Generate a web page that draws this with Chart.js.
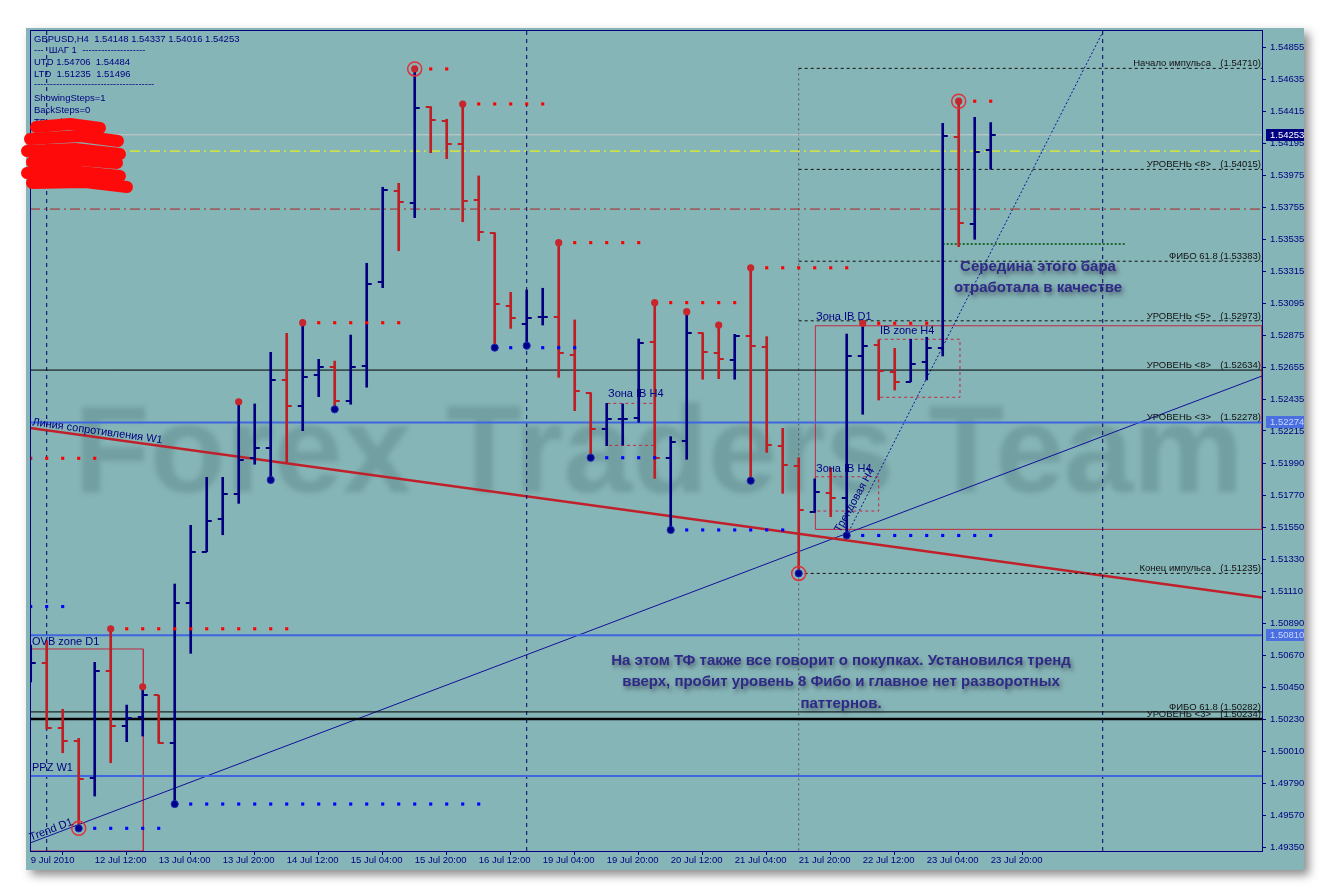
<!DOCTYPE html>
<html>
<head>
<meta charset="utf-8">
<script src="https://cdn.jsdelivr.net/npm/chart.js@4.4.1/dist/chart.umd.min.js"></script>
<style>
  html, body { margin: 0; padding: 0; background: #fff; }
  canvas { display: block; }
</style>
</head>
<body>
<canvas id="chart" width="1332" height="896"></canvas>
<script>
// GBPUSD H4, 9 Jul 2010 20:00 .. 23 Jul 20:00
const tickLabels = ['9 Jul 2010', '12 Jul 12:00', '13 Jul 04:00', '13 Jul 20:00', '14 Jul 12:00', '15 Jul 04:00',
  '15 Jul 20:00', '16 Jul 12:00', '19 Jul 04:00', '19 Jul 20:00', '20 Jul 12:00', '21 Jul 04:00',
  '21 Jul 20:00', '22 Jul 12:00', '23 Jul 04:00', '23 Jul 20:00'];
const priceTicks = [1.54855, 1.54635, 1.54415, 1.54195, 1.53975, 1.53755, 1.53535, 1.53315, 1.53095, 1.52875,
  1.52655, 1.52435, 1.52215, 1.51990, 1.51770, 1.51550, 1.51330, 1.51110, 1.50890, 1.50670, 1.50450,
  1.50230, 1.50010, 1.49790, 1.49570, 1.49350];

const opens = [1.50536, 1.50616, 1.50169, 1.50084, 1.49825, 1.50565, 1.50185, 1.50249, 1.50396, 1.50070,
  1.51033, 1.51384, 1.51607, 1.51779, 1.52027, 1.52100, 1.52566, 1.52387, 1.52602, 1.52657,
  1.52423, 1.52664, 1.53242, 1.53866, 1.53786, 1.54446, 1.54350, 1.54190, 1.53804, 1.53579,
  1.53077, 1.52951, 1.52996, 1.53001, 1.52738, 1.52478, 1.52229, 1.52295, 1.52306, 1.52827,
  1.52031, 1.52146, 1.52891, 1.52754, 1.52703, 1.52871, 1.52795, 1.52112, 1.51976, 1.51659,
  1.51790, 1.51756, 1.52731, 1.52807, 1.52619, 1.52554, 1.52688, 1.52788, 1.54236, 1.53639, 1.54148];
const highs = [1.50742, 1.50772, 1.50300, 1.50100, 1.50623, 1.50854, 1.50329, 1.50455, 1.50396, 1.51162,
  1.51566, 1.51896, 1.51896, 1.52416, 1.52401, 1.52756, 1.52887, 1.52960, 1.52708, 1.52696,
  1.52875, 1.53369, 1.53892, 1.53919, 1.54706, 1.54446, 1.54360, 1.54465, 1.53970, 1.53579,
  1.53169, 1.53185, 1.53197, 1.53511, 1.52979, 1.52478, 1.52405, 1.52401, 1.52848, 1.53098,
  1.52176, 1.53036, 1.52891, 1.52944, 1.52880, 1.53338, 1.52864, 1.52233, 1.52031, 1.51885,
  1.51962, 1.52882, 1.52956, 1.52841, 1.52784, 1.52846, 1.52860, 1.54332, 1.54484, 1.54373, 1.54337];
const lows = [1.50488, 1.50164, 1.50001, 1.49481, 1.49703, 1.49932, 1.50077, 1.50116, 1.50066, 1.49648,
  1.50685, 1.51384, 1.51501, 1.51717, 1.51986, 1.51878, 1.51997, 1.52217, 1.52451, 1.52364,
  1.52399, 1.52516, 1.53201, 1.53455, 1.53683, 1.54130, 1.54089, 1.53655, 1.53524, 1.52788,
  1.52921, 1.52802, 1.52944, 1.52584, 1.52355, 1.52031, 1.52114, 1.52118, 1.52275, 1.51889,
  1.51534, 1.52020, 1.52571, 1.52575, 1.52571, 1.51873, 1.52068, 1.51786, 1.51235, 1.51655,
  1.51625, 1.51496, 1.52330, 1.52428, 1.52497, 1.52554, 1.52566, 1.52731, 1.53483, 1.53534, 1.54016];
const closes = [1.50618, 1.50169, 1.50084, 1.49820, 1.50565, 1.50185, 1.50242, 1.50400, 1.50070, 1.51029,
  1.51384, 1.51598, 1.51781, 1.52015, 1.52096, 1.52566, 1.52387, 1.52584, 1.52657, 1.52423,
  1.52657, 1.53226, 1.53873, 1.53791, 1.54437, 1.54355, 1.54190, 1.53797, 1.53586, 1.53089,
  1.52994, 1.52994, 1.52999, 1.52754, 1.52492, 1.52229, 1.52297, 1.52297, 1.52822, 1.52027,
  1.52141, 1.52887, 1.52758, 1.52712, 1.52871, 1.52800, 1.52118, 1.51981, 1.51671, 1.51793,
  1.51756, 1.52731, 1.52800, 1.52630, 1.52554, 1.52676, 1.52784, 1.54245, 1.53648, 1.54137, 1.54253];

// fractal points (bar indexes)
const upFractals = [5, 7, 13, 17, 24, 27, 33, 39, 41, 43, 45, 52, 58];
const downFractals = [3, 9, 15, 19, 29, 31, 35, 40, 45, 48, 51];
const ringHighs = [24, 58];
const ringLows = [3, 48];

// dotted fractal levels: from bar, to bar, price
const redLevelFrom = [0, 6, 18, 25, 28, 34, 40, 46, 53, 59];
const redLevelTo = [4, 16, 23, 26, 32, 38, 44, 51, 56, 60];
const redLevelPrice = [1.52027, 1.50854, 1.52960, 1.54706, 1.54465, 1.53511, 1.53098, 1.53338, 1.52956, 1.54484];
const blueLevelFrom = [0, 4, 10, 30, 36, 41, 52];
const blueLevelTo = [2, 8, 28, 34, 39, 47, 60];
const blueLevelPrice = [1.51007, 1.49481, 1.49648, 1.52788, 1.52031, 1.51534, 1.51496];

// labelled levels on the right
const levelNames = ['Начало импульса', 'УРОВЕНЬ <8>', 'ФИБО 61.8', 'УРОВЕНЬ <5>', 'УРОВЕНЬ <8>',
  'УРОВЕНЬ <3>', 'Конец импульса', 'ФИБО 61.8', 'УРОВЕНЬ <3>'];
const levelValues = [1.54710, 1.54015, 1.53383, 1.52973, 1.52634, 1.52278, 1.51235, 1.50282, 1.50234];
const impulseFrom = 48;

const bidPrice = 1.54253;
const blueLines = [1.52274, 1.50810, 1.49841];
const yellowLine = 1.54141;
const redDashLine = 1.53742;
const greenDots = [57, 68.4, 1.53502];
const vLines = [1, 31, 67];

// trend lines
const trendX0 = [-0.044, -0.044, 51];
const trendY0 = [1.52235, 1.49380, 1.51496];
const trendX1 = [76.956, 76.956, 67];
const trendY1 = [1.51069, 1.52593, 1.54960];

// zones
const zoneNames = ['OVB zone D1', 'Зона IB D1', 'IB zone H4', 'Зона IB H4', 'Зона IB H4'];
const zoneX0 = [-0.044, 49.04, 53.0, 49.04, 36.04];
const zoneX1 = [7.04, 76.956, 58.08, 53.0, 39.0];
const zoneTop = [1.50715, 1.52939, 1.52846, 1.51900, 1.52405];
const zoneBottom = [1.49325, 1.51538, 1.52447, 1.51664, 1.52116];

const XMIN = -0.044, XMAX = 76.956, YMIN = 1.49325, YMAX = 1.54974;
const TEAL = '#86b5b7', NAVY = '#000080', BLUE = '#00007f', RED = '#bd1f24';
const FONT = '"Liberation Sans", Arial, sans-serif';

const barColors = closes.map((c, i) => (c >= opens[i] ? BLUE : RED));

function tickImage(color, side) {
  const c = document.createElement('canvas');
  c.width = 12; c.height = 2;
  const g = c.getContext('2d');
  g.fillStyle = color;
  g.fillRect(side === 'open' ? 1 : 6, 0, 5, 2);
  return c;
}
const openImg = { [BLUE]: tickImage(BLUE, 'open'), [RED]: tickImage(RED, 'open') };
const closeImg = { [BLUE]: tickImage(BLUE, 'close'), [RED]: tickImage(RED, 'close') };

function seg(x0, y0, x1, y1, color, width, dash) {
  return { type: 'line', data: [{ x: x0, y: y0 }, { x: x1, y: y1 }], borderColor: color, borderWidth: width,
    borderDash: dash || [], pointRadius: 0, fill: false, order: 5 };
}
function dots(from, to, price, color) {
  const pts = [];
  from.forEach((f, k) => { for (let j = f; j <= to[k]; j++) pts.push({ x: j, y: price[k] }); });
  return { type: 'line', data: pts, showLine: false, pointStyle: 'rect', pointRadius: 2.2,
    backgroundColor: color, borderWidth: 0, order: -1 };
}

const idx = opens.map((_, i) => i);
const datasets = [];

// levels and objects
blueLines.forEach(p => datasets.push(seg(XMIN, p, XMAX, p, '#3f66e0', 2)));
datasets.push(seg(XMIN, levelValues[4], XMAX, levelValues[4], '#000', 1));
datasets.push(seg(XMIN, levelValues[7], XMAX, levelValues[7], '#000', 1));
datasets.push(seg(XMIN, levelValues[8], XMAX, levelValues[8], '#000', 2.5));
[0, 1, 2, 3, 6].forEach(k => datasets.push(seg(impulseFrom, levelValues[k], XMAX, levelValues[k], '#111', 1, [3, 3])));
datasets.push(seg(XMIN, bidPrice, XMAX, bidPrice, '#c9c9c9', 1));
datasets.push(seg(XMIN, yellowLine, XMAX, yellowLine, '#ffff00', 1, [10, 4, 2, 4]));
datasets.push(seg(XMIN, redDashLine, XMAX, redDashLine, '#b02020', 1, [10, 4, 2, 4]));
vLines.forEach(v => datasets.push(seg(v, YMIN, v, YMAX, '#000060', 1, [4, 4])));
datasets.push(seg(impulseFrom, levelValues[0], impulseFrom, YMIN, '#555', 1, [2, 3]));
datasets.push(seg(greenDots[0], greenDots[2], greenDots[1], greenDots[2], '#1d6a2a', 2, [2, 2]));
datasets.push(seg(trendX0[0], trendY0[0], trendX1[0], trendY1[0], '#c0202a', 2.5));
datasets.push(seg(trendX0[1], trendY0[1], trendX1[1], trendY1[1], '#10109a', 1));
datasets.push(seg(trendX0[2], trendY0[2], trendX1[2], trendY1[2], '#10109a', 1, [2, 2]));
zoneNames.forEach((_, k) => {
  datasets.push({ type: 'line', order: 5, pointRadius: 0, fill: false,
    borderColor: '#c02840', borderWidth: 1, borderDash: k >= 2 ? [3, 3] : [],
    data: [{ x: zoneX0[k], y: zoneTop[k] }, { x: zoneX1[k], y: zoneTop[k] }, { x: zoneX1[k], y: zoneBottom[k] },
      { x: zoneX0[k], y: zoneBottom[k] }, { x: zoneX0[k], y: zoneTop[k] }] });
});
datasets.push(dots(redLevelFrom, redLevelTo, redLevelPrice, '#ff0000'));
datasets.push(dots(blueLevelFrom, blueLevelTo, blueLevelPrice, '#0000ff'));

// OHLC bars
datasets.push({ type: 'bar', data: idx.map(i => ({ x: i, y: [lows[i], highs[i]] })),
  backgroundColor: barColors, borderWidth: 0, barThickness: 2, order: 0 });
datasets.push({ type: 'line', data: idx.map(i => ({ x: i, y: opens[i] })), showLine: false, pointRadius: 3,
  pointStyle: c => openImg[barColors[c.dataIndex]], order: 0 });
datasets.push({ type: 'line', data: idx.map(i => ({ x: i, y: closes[i] })), showLine: false, pointRadius: 3,
  pointStyle: c => closeImg[barColors[c.dataIndex]], order: 0 });

// fractal marks
datasets.push({ type: 'line', data: upFractals.map(i => ({ x: i, y: highs[i] })), showLine: false,
  pointRadius: 3.6, backgroundColor: '#c8262c', borderColor: '#c8262c', borderWidth: 0, order: -2 });
datasets.push({ type: 'line', data: downFractals.map(i => ({ x: i, y: lows[i] })), showLine: false,
  pointRadius: 3.6, backgroundColor: '#00008a', borderColor: '#2030b0', borderWidth: 1, order: -2 });
datasets.push({ type: 'line', data: ringHighs.map(i => ({ x: i, y: highs[i] })).concat(ringLows.map(i => ({ x: i, y: lows[i] }))),
  showLine: false, pointRadius: 7, backgroundColor: 'rgba(0,0,0,0)', borderColor: '#e0303a', borderWidth: 1.5, order: -3 });

function lineAt(chart, k, xPix) {
  const xs = chart.scales.x, ys = chart.scales.y;
  const ax = xs.getPixelForValue(trendX0[k]), ay = ys.getPixelForValue(trendY0[k]);
  const bx = xs.getPixelForValue(trendX1[k]), by = ys.getPixelForValue(trendY1[k]);
  return { y: ay + (xPix - ax) / (bx - ax) * (by - ay), a: Math.atan2(by - ay, bx - ax) };
}

const decor = {
  id: 'decor',
  beforeDraw(chart) {
    const ctx = chart.ctx;
    ctx.save();
    ctx.fillStyle = '#fff';
    ctx.fillRect(0, 0, 1332, 896);
    ctx.shadowColor = 'rgba(0,0,0,0.45)';
    ctx.shadowBlur = 9; ctx.shadowOffsetX = 5; ctx.shadowOffsetY = 5;
    ctx.fillStyle = TEAL;
    ctx.fillRect(26, 28, 1278, 842);
    ctx.restore();
  },
  beforeDatasetsDraw(chart) {
    const ctx = chart.ctx;
    ctx.save();
    ctx.filter = 'blur(2.5px)';
    ctx.font = 'bold 124px ' + FONT;
    ctx.fillStyle = 'rgba(45,80,85,0.22)';
    ctx.textBaseline = 'alphabetic';
    ctx.fillText('Forex Traders Team', 74, 492);
    ctx.restore();
  },
  afterDraw(chart) {
    const ctx = chart.ctx, ys = chart.scales.y, a = chart.chartArea;
    ctx.save();
    ctx.strokeStyle = NAVY; ctx.lineWidth = 1;
    ctx.strokeRect(a.left + 0.5, a.top + 0.5, a.right - a.left, a.bottom - a.top);

    // header
    ctx.fillStyle = NAVY;
    ctx.font = '9.5px ' + FONT;
    ctx.textAlign = 'left'; ctx.textBaseline = 'alphabetic';
    const head = ['GBPUSD,H4  1.54148 1.54337 1.54016 1.54253', '---  ШАГ 1  --------------------',
      'UTD 1.54706  1.54484', 'LTD  1.51235  1.51496', '--------------------------------------',
      'ShowingSteps=1', 'BackSteps=0', 'TD-point'];
    const hy = [42, 53, 64.5, 76.5, 87, 100.5, 112.5, 124.5];
    head.forEach((s, k) => ctx.fillText(s, 34, hy[k]));

    // scribble
    ctx.strokeStyle = '#ff0a0a'; ctx.lineCap = 'round'; ctx.lineJoin = 'round'; ctx.lineWidth = 12;
    const strokes = [[[36, 127], [70, 124], [100, 128]], [[30, 139], [80, 136], [118, 141]],
      [[27, 151], [75, 149], [120, 154]], [[32, 162], [80, 160], [117, 163]], [[27, 173], [70, 171], [120, 176]],
      [[32, 183], [85, 182], [127, 187]]];
    strokes.forEach(st => { ctx.beginPath(); st.forEach((p, k) => (k ? ctx.lineTo(p[0], p[1]) : ctx.moveTo(p[0], p[1]))); ctx.stroke(); });

    // zone and line captions
    ctx.fillStyle = NAVY;
    ctx.font = '11px ' + FONT;
    ctx.fillText(zoneNames[0], 32, 645);
    ctx.fillText('PPZ W1', 32, 771);
    ctx.fillText(zoneNames[1], 816, 320);
    ctx.fillText(zoneNames[2], 880, 334);
    ctx.fillText(zoneNames[3], 816, 472);
    ctx.fillText(zoneNames[4], 608, 397);
    let t = lineAt(chart, 0, 32);
    ctx.save(); ctx.translate(32, t.y - 3); ctx.rotate(t.a); ctx.fillText('Линия сопротивления W1', 0, 0); ctx.restore();
    t = lineAt(chart, 1, 31);
    ctx.save(); ctx.translate(31, t.y - 2); ctx.rotate(t.a); ctx.fillText('Trend D1', 0, 0); ctx.restore();
    ctx.save(); ctx.translate(840, 533); ctx.rotate(-61 * Math.PI / 180); ctx.fillText('Трендовая H4', 0, 0); ctx.restore();

    // right level labels
    ctx.fillStyle = '#111';
    ctx.font = '9.5px ' + FONT;
    ctx.textAlign = 'right';
    levelValues.forEach((v, k) => {
      const y = ys.getPixelForValue(v) - 2;
      const val = '(' + v.toFixed(5) + ')';
      if (levelNames[k].indexOf('ФИБО') === 0) ctx.fillText(levelNames[k] + ' ' + val, 1261, y);
      else { ctx.fillText(val, 1261, y); ctx.fillText(levelNames[k], 1211, y); }
    });

    // price boxes on the axis
    ctx.textAlign = 'left'; ctx.textBaseline = 'middle';
    const boxes = [[bidPrice, NAVY, '#ffffff'], [blueLines[0], '#4a6fe0', '#c8d6ff'], [blueLines[1], '#4a6fe0', '#c8d6ff']];
    boxes.forEach(b => {
      const y = Math.round(ys.getPixelForValue(b[0]));
      ctx.fillStyle = b[1]; ctx.fillRect(1266, y - 6, 38, 12);
      ctx.fillStyle = b[2]; ctx.fillText(b[0].toFixed(5), 1270, y + 0.5);
    });

    // comments
    ctx.font = 'bold 15px ' + FONT;
    ctx.textAlign = 'center'; ctx.textBaseline = 'alphabetic';
    ctx.shadowColor = 'rgba(30,30,50,0.55)'; ctx.shadowBlur = 4; ctx.shadowOffsetX = 2; ctx.shadowOffsetY = 3;
    ctx.fillStyle = '#2f2a88';
    ctx.fillText('Середина этого бара', 1038, 271);
    ctx.fillText('отработала в качестве', 1038, 292);
    ctx.fillText('На этом ТФ также все говорит о покупках. Установился тренд', 841, 665);
    ctx.fillText('вверх, пробит уровень 8 Фибо и главное нет разворотных', 841, 686);
    ctx.fillText('паттернов.', 841, 708);
    ctx.restore();
  }
};

new Chart(document.getElementById('chart'), {
  type: 'bar',
  data: { datasets },
  plugins: [decor],
  options: {
    responsive: false,
    animation: false,
    events: [],
    layout: { padding: { left: 30, top: 30, right: 28, bottom: 26 } },
    plugins: { legend: { display: false }, tooltip: { enabled: false } },
    scales: {
      x: {
        type: 'linear', min: XMIN, max: XMAX, offset: false,
        afterBuildTicks: s => { s.ticks = tickLabels.map((_, k) => ({ value: k * 4 })); },
        afterFit: s => { s.height = 19; },
        ticks: { autoSkip: false, maxRotation: 0, align: 'start', padding: 0, color: NAVY,
          font: { family: FONT, size: 9.5 }, callback: v => tickLabels[Math.round(v / 4)] },
        grid: { drawOnChartArea: false, tickLength: 4, color: NAVY },
        border: { color: NAVY }
      },
      y: {
        type: 'linear', position: 'right', min: YMIN, max: YMAX,
        afterBuildTicks: s => { s.ticks = priceTicks.map(v => ({ value: v })); },
        afterFit: s => { s.width = 42; },
        ticks: { padding: 4, color: NAVY, font: { family: FONT, size: 9.5 }, callback: v => v.toFixed(5) },
        grid: { drawOnChartArea: false, tickLength: 4, color: NAVY },
        border: { color: NAVY }
      }
    }
  }
});
</script>
</body>
</html>
